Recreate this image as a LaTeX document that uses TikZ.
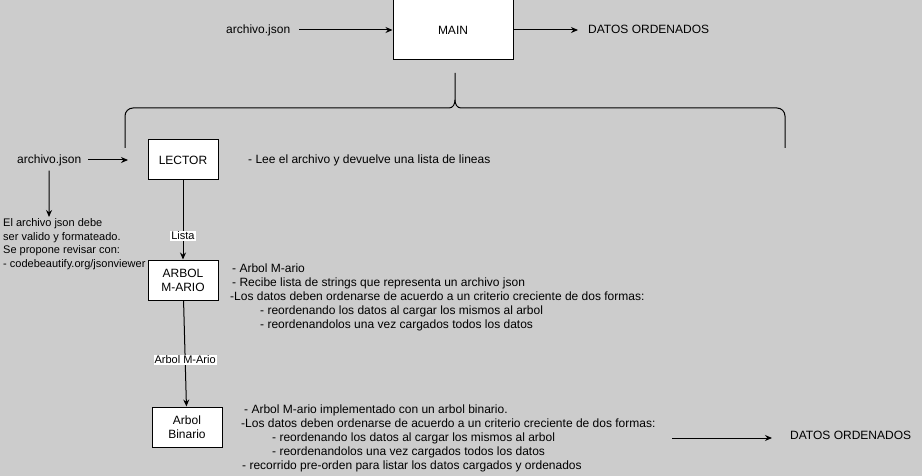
\documentclass[tikz,border=0pt]{standalone}
\usepackage{fontspec}
\setmainfont{Liberation Sans}
\usetikzlibrary{arrows.meta}
\definecolor{bg}{RGB}{204,204,204}
\begin{document}
\begin{tikzpicture}[x=1pt,y=-1pt,
  box/.style={draw=black,fill=white,line width=1pt,minimum width=70pt,minimum height=40pt,inner sep=0pt,align=center,font=\fontsize{12}{14}\selectfont},
  txt/.style={anchor=base west,inner sep=0pt,font=\fontsize{12}{14}\selectfont},
  small/.style={anchor=base west,inner sep=0pt,font=\fontsize{11}{13}\selectfont},
  lbl/.style={fill=white,inner sep=1pt,font=\fontsize{11}{13}\selectfont},
  arr/.style={line width=1pt,-{Stealth[length=7pt,width=6pt]}},
  ln/.style={line width=1pt}]
\fill[bg] (0,0) rectangle (922,476);
\useasboundingbox (0,0) rectangle (922,476);

% top row
\node[box,minimum width=120pt,minimum height=60pt] (main) at (453,30) {MAIN};
\node[txt] (arch1) at (226,34) {archivo.json};
\node[txt] (datos1) at (588,34) {DATOS ORDENADOS};
\draw[arr] ([xshift=9pt]arch1.east |- main.west) -- (main.west);
\draw[arr] (main.east) -- ([xshift=-10pt]datos1.west |- main.east);

% brace
\draw[ln] (125,148) -- (125,116) arc[start angle=180,end angle=270,radius=8] -- (449,108)
  .. controls (453,108) and (455,104) .. (455,100) -- (455,73);
\draw[ln] (455,100) .. controls (455,104) and (457,108) .. (461,108) -- (777,108)
  arc[start angle=270,end angle=360,radius=8] -- (785,148);

% LECTOR row
\node[box] (lector) at (183,160) {LECTOR};
\node[txt] (arch2) at (17,164) {archivo.json};
\coordinate (in2) at (128,160);
\draw[arr] ([xshift=7pt]arch2.east |- in2) -- (in2);
\coordinate (nt) at (49,217);
\draw[arr] ([yshift=-4pt]arch2.south) -- (nt);
\node[small] (n1) at (3,227) {El archivo json debe};
\node[small] (n2) at (3,240.5) {ser valido y formateado.};
\node[small] (n3) at (3,254) {Se propone revisar con:};
\node[small] (n4) at (3,267.5) {- codebeautify.org/jsonviewer};
\node[txt] (lee) at (248,164) {- Lee el archivo y devuelve una lista de lineas};

% ARBOL M-ARIO
\node[box] (arbol) at (183,280) {ARBOL\\M-ARIO};
\draw[arr] (lector) -- node[lbl,pos=0.7] (lab1) {Lista} (arbol);
\node[txt] (a1) at (232,272.5) {- Arbol M-ario};
\node[txt] (a2) at (232,286.5) {- Recibe lista de strings que representa un archivo json};
\node[txt] (a3) at (230,300.5) {-Los datos deben ordenarse de acuerdo a un criterio creciente de dos formas:};
\node[txt] (a4) at (260,314.5) {- reordenando los datos al cargar los mismos al arbol};
\node[txt] (a5) at (260,328.5) {- reordenandolos una vez cargados todos los datos};

% Arbol Binario
\node[box] (bin) at (187,427) {Arbol\\Binario};
\draw[arr] (arbol) -- node[lbl,pos=0.56] (lab2) {Arbol M-Ario} (bin);
\node[txt] (b1) at (244,413) {- Arbol M-ario implementado con un arbol binario.};
\node[txt] (b2) at (241,427) {-Los datos deben ordenarse de acuerdo a un criterio creciente de dos formas:};
\node[txt] (b3) at (272,441) {- reordenando los datos al cargar los mismos al arbol};
\node[txt] (b4) at (272,455) {- reordenandolos una vez cargados todos los datos};
\node[txt] (b5) at (242,469) {- recorrido pre-orden para listar los datos cargados y ordenados};

\coordinate (o2) at (672,438);
\node[txt] (datos2) at (790,439) {DATOS ORDENADOS};
\draw[arr] (o2) -- ([xshift=-18pt]datos2.west |- o2);
\end{tikzpicture}
\end{document}
